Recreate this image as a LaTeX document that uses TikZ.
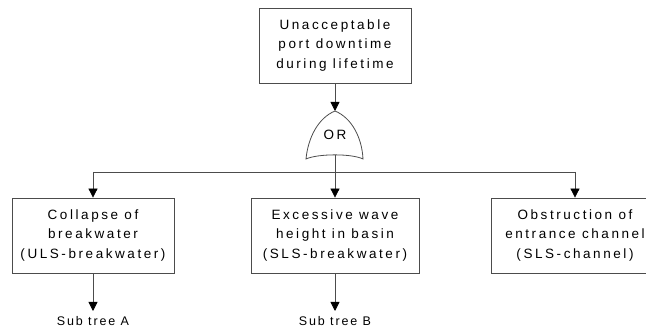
\documentclass[tikz,border=0pt]{standalone}
\usepackage{fontspec}
\setmainfont{Liberation Sans}
\newfontfamily\boxfont{Liberation Sans}[LetterSpace=19]
\newfontfamily\subfont{Liberation Sans}[LetterSpace=15]
\usetikzlibrary{arrows.meta}
\begin{document}
\begin{tikzpicture}[x=1pt,y=-1pt,
  conn/.style={draw=black!70, line width=0.8pt},
  arr/.style={conn, -{Triangle[width=9pt,length=9pt,fill=black,color=black]}},
  box/.style={draw=black!70, line width=0.8pt, minimum height=75pt, align=center,
    inner sep=0pt, font=\boxfont\fontsize{13.5}{19.5}\selectfont},
  gatetext/.style={inner sep=0pt, font=\boxfont\fontsize{13.5}{15}\selectfont},
  subtext/.style={inner sep=0pt, font=\subfont\fontsize{12.5}{14}\selectfont}]
\useasboundingbox (0,0) rectangle (646,328);

\node[box, minimum width=152pt] (top) at (335,45.5) {Unacceptable\\port downtime\\during lifetime};

\coordinate (gtop) at (335,111);
\coordinate (gbot) at (335,155);
\draw[conn, fill=white] (gtop) .. controls (318,118) and (308,138) .. (306,159)
  .. controls (318,153.5) and (352,153.5) .. (363,159)
  .. controls (362,138) and (352,118) .. (gtop);
\node[gatetext] (or) at (335,134.5) {OR};

\draw[arr] (top) -- (gtop);

\coordinate (jn) at (335,172);
\coordinate (jl) at (93,172);
\coordinate (jr) at (575,172);
\draw[conn] (gbot) -- (jn);
\draw[conn] (jl) -- (jr);

\node[box, minimum width=162pt] (b1) at (93,235.5) {Collapse of\\breakwater\\(ULS-breakwater)};
\node[box, minimum width=168pt] (b2) at (335,235.5) {Excessive wave\\height in basin\\(SLS-breakwater)};
\node[box, minimum width=168pt] (b3) at (575,235.5) {Obstruction of\\entrance channel\\(SLS-channel)};

\draw[arr] (jl) -- (b1);
\draw[arr] (jn) -- (b2);
\draw[arr] (jr) -- (b3);

\coordinate (ta) at (93,311);
\coordinate (tb) at (335,311);
\draw[arr] (b1) -- (ta);
\draw[arr] (b2) -- (tb);
\node[subtext] (la) at (93,321) {Sub tree A};
\node[subtext] (lb) at (335,321) {Sub tree B};
\end{tikzpicture}
\end{document}
